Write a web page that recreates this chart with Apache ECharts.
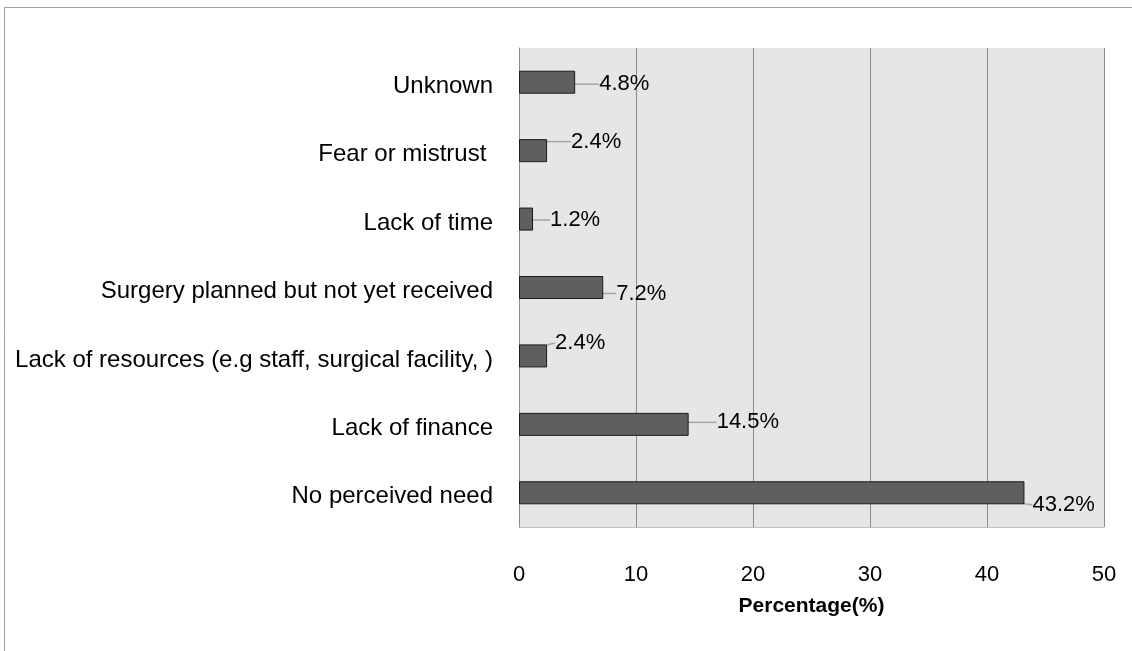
<!DOCTYPE html>
<html>
<head>
<meta charset="utf-8">
<script src="https://cdn.jsdelivr.net/npm/echarts@6/dist/echarts.min.js"></script>
<style>
html,body{margin:0;padding:0;background:#fff;}
#chart{width:1132px;height:651px;}
</style>
</head>
<body>
<div id="chart"></div>
<script>
// ---- data ----
const categories = [
  'Unknown',
  'Fear or mistrust ',
  'Lack of time',
  'Surgery planned but not yet received',
  'Lack of resources (e.g staff, surgical facility, )',
  'Lack of finance',
  'No perceived need'
];
const values = [4.8, 2.4, 1.2, 7.2, 2.4, 14.5, 43.2];
const xTicks = [0, 10, 20, 30, 40, 50];
const axisTitle = 'Percentage(%)';

// ---- layout (label nudges, px) ----
const labelNudge = [
  [19, 2], [19, -9], [12, 1], [8, 6], [3, -13], [23, -2], [3, 12]
];

const FONT = '"Liberation Sans", Arial, sans-serif';
const chart = echarts.init(document.getElementById('chart'), null, {renderer: 'canvas'});
chart.setOption({
  animation: false,
  backgroundColor: '#ffffff',
  graphic: [{
    type: 'rect', z: -10,
    shape: {x: 4.5, y: 7.5, width: 1200, height: 700},
    style: {fill: 'none', stroke: '#a0a0a0', lineWidth: 1}
  }],
  grid: {
    left: 519, right: 28, top: 48, bottom: 124,
    show: true, backgroundColor: '#e6e6e6', borderWidth: 0
  },
  xAxis: {
    type: 'value', min: xTicks[0], max: xTicks[xTicks.length - 1], interval: 10,
    axisLine: {show: true, lineStyle: {color: '#bfbfbf', width: 1}},
    axisTick: {show: false},
    splitLine: {show: true, lineStyle: {color: '#8c8c8c', width: 1}},
    axisLabel: {color: '#000', fontFamily: FONT, fontSize: 22, margin: 37},
    name: axisTitle, nameLocation: 'middle', nameGap: 69,
    nameTextStyle: {color: '#000', fontFamily: FONT, fontSize: 21, fontWeight: 'bold'}
  },
  yAxis: {
    type: 'category', data: categories, inverse: true,
    axisLine: {show: true, lineStyle: {color: '#8c8c8c', width: 1}},
    axisTick: {show: false},
    splitLine: {show: false},
    axisLabel: {
      margin: 26,
      formatter: v => '{c|' + v + '}',
      rich: {c: {color: '#000', fontFamily: FONT, fontSize: 24, padding: [8, 0, 0, 0]}}
    }
  },
  series: [{
    type: 'bar',
    data: values,
    barWidth: 23,
    itemStyle: {color: '#5f5f5f', borderColor: '#1a1a1a', borderWidth: 1},
    label: {
      show: true, position: 'right', distance: 5,
      formatter: p => p.value.toFixed(1) + '%',
      color: '#000', fontFamily: FONT, fontSize: 22
    },
    labelLine: {show: true, lineStyle: {color: '#a6a6a6', width: 1.5}},
    labelLayout: function (p) {
      const n = labelNudge[p.dataIndex];
      return {dx: n[0], dy: n[1]};
    }
  }]
});
</script>
</body>
</html>
